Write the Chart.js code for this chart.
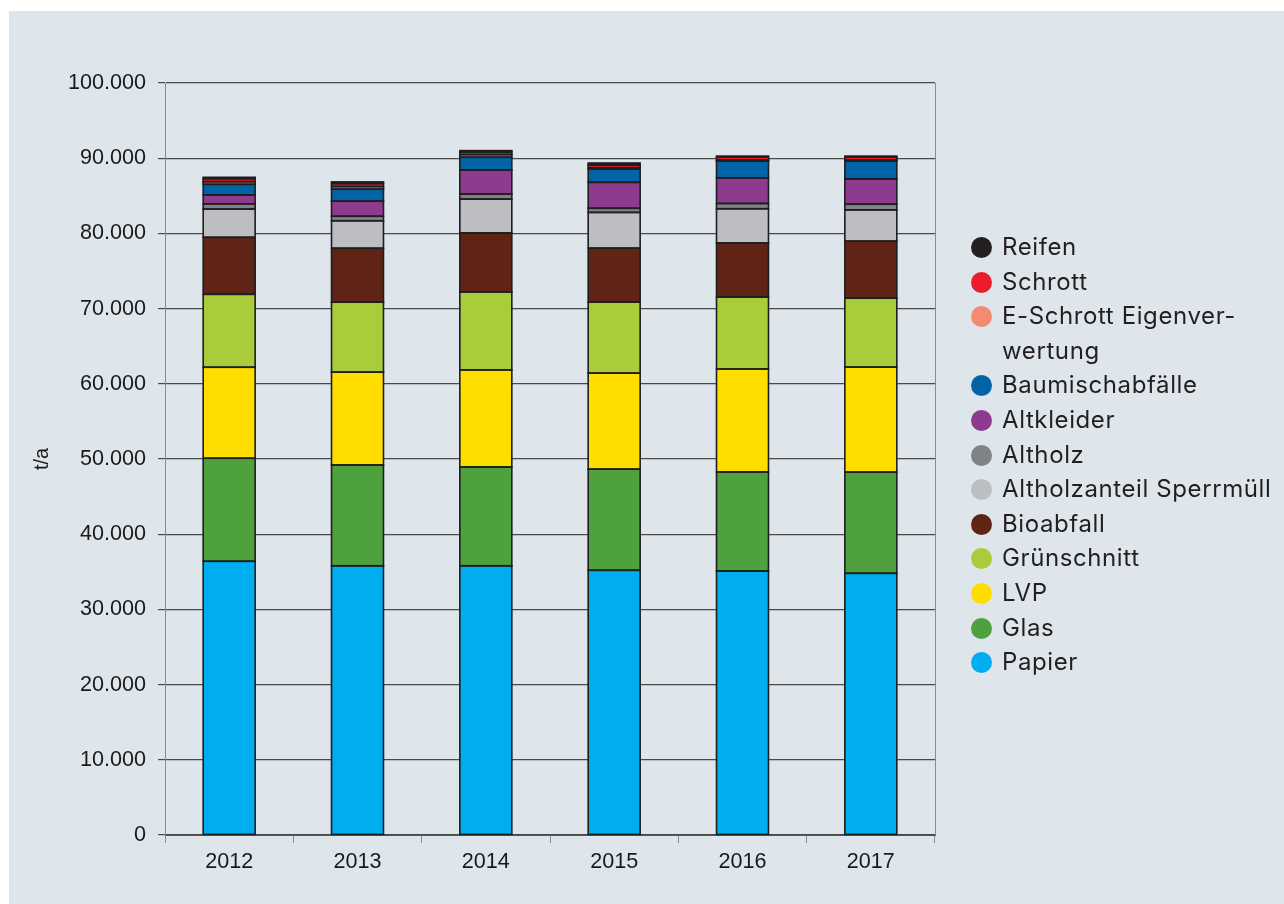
<!DOCTYPE html>
<html>
<head>
<meta charset="utf-8">
<script src="https://cdn.jsdelivr.net/npm/chart.js@4/dist/chart.umd.min.js"></script>
<style>
  html, body { margin: 0; padding: 0; background: #ffffff; }
  #panel { position: absolute; left: 9px; top: 11px; width: 1275px; height: 893px; background: #dee6ec; }
  #wrap { position: absolute; left: 0; top: 0; width: 1284px; height: 904px; }
  #legend { position: absolute; left: 971px; top: 230px; font-family: Inter, "Open Sans", sans-serif; font-size: 24px; letter-spacing: 0.6px; color: #231f20; }
  .item { display: flex; align-items: flex-start; line-height: 34.6px; }
  .dot { width: 21px; height: 21px; border-radius: 50%; flex: 0 0 21px; margin-top: 7px; margin-right: 10px; }
</style>
</head>
<body>
<div id="panel"></div>
<div id="wrap"><canvas id="c" width="1284" height="904"></canvas></div>
<div id="legend"></div>
<script>
const years = ['2012', '2013', '2014', '2015', '2016', '2017'];
const papier       = [36400, 35800, 35800, 35200, 35100, 34800];
const glas         = [13700, 13400, 13150, 13450, 13170, 13450];
const lvp          = [12100, 12350, 12900, 12770, 13700, 13960];
const gruenschnitt = [ 9700,  9300, 10360,  9440,  9570,  9170];
const bioabfall    = [ 7580,  7180,  7850,  7180,  7180,  7590];
const sperrmuell   = [ 3750,  3650,  4500,  4750,  4560,  4160];
const altholz      = [  700,   600,   670,   550,   700,   750];
const altkleider   = [ 1200,  2000,  3200,  3450,  3400,  3350];
const baumisch     = [ 1400,  1600,  1700,  1800,  2250,  2400];
const eschrott     = [  350,   350,   350,   120,   120,   120];
const schrott      = [  400,   400,   350,   350,   400,   400];
const reifen       = [  180,   220,   180,   300,   130,   130];
const yTicks = [0, 10000, 20000, 30000, 40000, 50000, 60000, 70000, 80000, 90000, 100000];

const series = [
  { label: 'Papier', data: papier, color: '#00aeef' },
  { label: 'Glas', data: glas, color: '#4fa13d' },
  { label: 'LVP', data: lvp, color: '#ffdd00' },
  { label: 'Grünschnitt', data: gruenschnitt, color: '#a8cc3a' },
  { label: 'Bioabfall', data: bioabfall, color: '#5f2416' },
  { label: 'Altholzanteil Sperrmüll', data: sperrmuell, color: '#bdbec1' },
  { label: 'Altholz', data: altholz, color: '#808285' },
  { label: 'Altkleider', data: altkleider, color: '#8e3a8e' },
  { label: 'Baumischabfälle', data: baumisch, color: '#0064a7' },
  { label: 'E-Schrott Eigenver-\nwertung', data: eschrott, color: '#f48a70' },
  { label: 'Schrott', data: schrott, color: '#ed1c2a' },
  { label: 'Reifen', data: reifen, color: '#231f20' }
];

function fmt(v) {
  return String(v).replace(/\B(?=(\d{3})+(?!\d))/g, '.');
}

// outlines each bar segment (centered stroke) using the library's computed bar geometry
const outlines = {
  id: 'outlines',
  afterDatasetsDraw(chart) {
    const ctx = chart.ctx;
    ctx.save();
    ctx.strokeStyle = '#1e1e1e';
    ctx.lineWidth = 1.6;
    chart.data.datasets.forEach((ds, i) => {
      chart.getDatasetMeta(i).data.forEach(el => {
        const p = el.getProps(['x', 'y', 'base', 'width'], true);
        ctx.strokeRect(p.x - p.width / 2, Math.min(p.y, p.base), p.width, Math.abs(p.base - p.y));
      });
    });
    const a = chart.chartArea;
    ctx.strokeStyle = '#8a8c8e';
    ctx.lineWidth = 1;
    ctx.beginPath();
    ctx.moveTo(Math.round(a.right) + 0.5, a.top);
    ctx.lineTo(Math.round(a.right) + 0.5, a.bottom);
    ctx.stroke();
    ctx.restore();
  }
};

const chart = new Chart(document.getElementById('c'), {
  type: 'bar',
  data: {
    labels: years,
    datasets: series.map(s => ({
      label: s.label,
      data: s.data,
      backgroundColor: s.color,
      borderWidth: 0,
      barPercentage: 0.405,
      categoryPercentage: 1.0
    }))
  },
  options: {
    responsive: false,
    animation: false,
    devicePixelRatio: 1,
    layout: { padding: { left: 0, right: 349, top: 83, bottom: 0 } },
    plugins: { legend: { display: false }, tooltip: { enabled: false } },
    scales: {
      x: {
        stacked: true,
        afterFit(scale) { scale.height = 69; },
        grid: { drawOnChartArea: false, drawTicks: true, tickLength: 8, color: '#8a8c8e', offset: true },
        border: { display: true, color: '#555555', width: 1 },
        ticks: { color: '#1a1a1a', font: { family: 'Liberation Sans', size: 21.6 }, padding: 6 }
      },
      y: {
        stacked: true,
        min: 0,
        max: 100000,
        afterFit(scale) { scale.width = 165; },
        afterBuildTicks(scale) { scale.ticks = yTicks.map(v => ({ value: v })); },
        grid: { color: '#4a4a4a', lineWidth: 1.2, tickLength: 7, drawTicks: true },
        border: { display: true, color: '#8a8c8e', width: 1 },
        ticks: { color: '#1a1a1a', font: { family: 'Liberation Sans', size: 21.6 }, padding: 12, callback: v => fmt(v) },
        title: { display: true, text: 't/a', color: '#1a1a1a', font: { family: 'Liberation Sans', size: 20 }, padding: { top: 30, bottom: 0 } }
      }
    }
  },
  plugins: [outlines]
});

const legendEl = document.getElementById('legend');
chart.data.datasets.slice().reverse().forEach(ds => {
  const item = document.createElement('div');
  item.className = 'item';
  const dot = document.createElement('span');
  dot.className = 'dot';
  dot.style.background = ds.backgroundColor;
  const txt = document.createElement('span');
  txt.innerHTML = ds.label.split('\n').join('<br>');
  item.appendChild(dot);
  item.appendChild(txt);
  legendEl.appendChild(item);
});
</script>
</body>
</html>
